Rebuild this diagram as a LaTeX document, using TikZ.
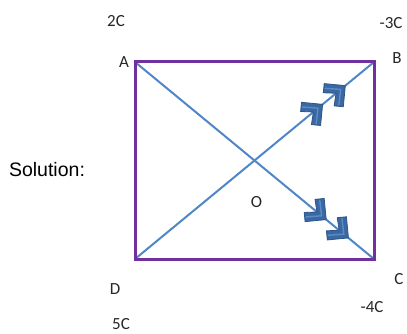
\documentclass[tikz,border=0pt]{standalone}
\usepackage{fontspec}
\setmainfont{Carlito}
\newfontfamily\arialf{Liberation Sans}
\definecolor{rectpurple}{HTML}{7030A0}
\definecolor{diagblue}{HTML}{4F86C6}
\definecolor{arrfill}{HTML}{3A68A2}
\definecolor{arredge}{HTML}{2C5689}
\definecolor{arrlight}{HTML}{5B8CC8}
\tikzset{
  lbl/.style={inner sep=0pt, font=\fontsize{17}{17}\selectfont, text=black!85},
  rectline/.style={draw=rectpurple, line width=3pt},
  diagline/.style={draw=diagblue, line width=2pt},
  chev/.pic={
    \fill[arrfill, draw=arredge, line width=0.8pt, line join=miter]
      (0pt,0pt) -- (-15pt,15pt) -- (-21.5pt,8.5pt) -- (-12pt,0pt) -- (-21.5pt,-8.5pt) -- (-15pt,-15pt) -- cycle;
    \draw[arrlight, line width=1.4pt] (-17.5pt,11pt) -- (-6pt,0pt) -- (-17.5pt,-11pt);
  }
}
\begin{document}
\begin{tikzpicture}[x=1pt,y=-1pt]
\useasboundingbox (0,0) rectangle (407,334);
\coordinate (A) at (135,62);
\coordinate (B) at (374,62);
\coordinate (C) at (374,259);
\coordinate (D) at (135,259);
\draw[diagline] (A) -- (C);
\draw[diagline] (D) -- (B);
\draw[rectline] (A) -- (B) -- (C) -- (D) -- cycle;
\path (D) -- (B)
  pic[pos=0.785, sloped, allow upside down] {chev}
  pic[pos=0.88, sloped, allow upside down] {chev};
\path (A) -- (C)
  pic[pos=0.80, sloped, allow upside down] {chev}
  pic[pos=0.893, sloped, allow upside down] {chev};
\node[lbl] (lA) at (124,62) {A};
\node[lbl] (lB) at (397,58) {B};
\node[lbl] (lC) at (399,279) {C};
\node[lbl] (lD) at (115,289) {D};
\node[lbl] (lO) at (256.5,202.5) {O};
\node[lbl] (q1) at (116,21) {2C};
\node[lbl] (q2) at (391,23) {-3C};
\node[lbl] (q3) at (372,307) {-4C};
\node[lbl] (q4) at (121,324) {5C};
\node[inner sep=0pt, font=\arialf\fontsize{19.5}{19.5}\selectfont] (sol) at (47,170) {Solution:};
\end{tikzpicture}
\end{document}
